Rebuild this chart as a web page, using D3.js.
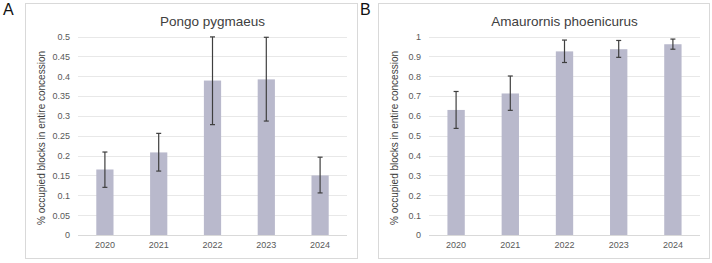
<!DOCTYPE html>
<html>
<head>
<meta charset="utf-8">
<script src="https://cdn.jsdelivr.net/npm/d3@7"></script>
<style>
  body { margin: 0; background: #fff; }
  svg { display: block; font-family: "Liberation Sans", Arial, sans-serif; }
</style>
</head>
<body>
<div id="chart"></div>
<script>
// data
var years = ["2020", "2021", "2022", "2023", "2024"];

var pongoMean = [0.165, 0.208, 0.389, 0.392, 0.150];
var pongoLow  = [0.120, 0.161, 0.278, 0.287, 0.106];
var pongoHigh = [0.209, 0.256, 0.499, 0.498, 0.196];
var pongoTicks = [0, 0.05, 0.1, 0.15, 0.2, 0.25, 0.3, 0.35, 0.4, 0.45, 0.5];

var amauMean = [0.630, 0.713, 0.925, 0.936, 0.961];
var amauLow  = [0.537, 0.628, 0.869, 0.895, 0.936];
var amauHigh = [0.723, 0.801, 0.982, 0.980, 0.987];
var amauTicks = [0, 0.1, 0.2, 0.3, 0.4, 0.5, 0.6, 0.7, 0.8, 0.9, 1];

var yTitle = "% occupied blocks in entire concession";

var svg = d3.select("#chart").append("svg")
    .attr("width", 712)
    .attr("height", 263);

function drawPanel(p) {
    var g = svg.append("g").attr("transform", "translate(" + p.x + ",0)");

    // outer frame
    g.append("rect")
        .attr("x", p.boxLeft + 0.5).attr("y", 3.5)
        .attr("width", p.boxWidth).attr("height", 255)
        .attr("fill", "#fff").attr("stroke", "#d9d9d9");

    g.append("text")
        .attr("x", p.letterX).attr("y", 15)
        .style("font-size", "16px").attr("fill", "#111")
        .text(p.letter);

    var data = years.map(function(y, i) {
        return {year: y, mean: p.mean[i], low: p.low[i], high: p.high[i]};
    });

    var x = d3.scaleBand()
        .domain(years)
        .range([p.plotLeft, p.plotRight])
        .paddingInner(0.68)
        .paddingOuter(0.34);

    var y = d3.scaleLinear()
        .domain([0, p.max])
        .range([235, 36.5]);

    // grid
    g.selectAll(".grid")
        .data(p.ticks)
      .enter().append("line")
        .attr("x1", p.plotLeft).attr("x2", p.plotRight)
        .attr("y1", function(d) { return Math.round(y(d)) + 0.5; })
        .attr("y2", function(d) { return Math.round(y(d)) + 0.5; })
        .attr("stroke", function(d) { return d === 0 ? "#d9d9d9" : "#e8e8e8"; });

    var yAxis = d3.axisLeft(y).tickValues(p.ticks).tickSize(0).tickPadding(0)
        .tickFormat(function(d) { return String(+d.toFixed(2)); });
    var ya = g.append("g")
        .attr("transform", "translate(" + (p.plotLeft - 8) + ",0)")
        .call(yAxis);
    ya.select(".domain").remove();
    ya.selectAll("text").style("font-size", "9px").attr("fill", "#595959");

    var xAxis = d3.axisBottom(x).tickSize(0).tickPadding(0);
    var xa = g.append("g")
        .attr("transform", "translate(0,242)")
        .call(xAxis);
    xa.select(".domain").remove();
    xa.selectAll("text").style("font-size", "9px").attr("fill", "#595959");

    // bars
    g.selectAll(".bar")
        .data(data)
      .enter().append("rect")
        .attr("fill", "#b9b9cc")
        .attr("x", function(d) { return x(d.year); })
        .attr("width", x.bandwidth())
        .attr("y", function(d) { return y(d.mean); })
        .attr("height", function(d) { return y(0) - y(d.mean); });

    // error bars
    var eb = g.selectAll(".err")
        .data(data)
      .enter().append("g")
        .attr("stroke", "#3f3f3f").attr("stroke-width", 1.2);
    eb.append("line")
        .attr("x1", function(d) { return x(d.year) + x.bandwidth() / 2; })
        .attr("x2", function(d) { return x(d.year) + x.bandwidth() / 2; })
        .attr("y1", function(d) { return y(d.low); })
        .attr("y2", function(d) { return y(d.high); });
    [ "low", "high" ].forEach(function(k) {
        eb.append("line")
            .attr("x1", function(d) { return x(d.year) + x.bandwidth() / 2 - 2.5; })
            .attr("x2", function(d) { return x(d.year) + x.bandwidth() / 2 + 2.5; })
            .attr("y1", function(d) { return y(d[k]); })
            .attr("y2", function(d) { return y(d[k]); });
    });

    // titles
    g.append("text")
        .attr("x", (p.plotLeft + p.plotRight) / 2).attr("y", 26)
        .attr("text-anchor", "middle")
        .style("font-size", "13.5px").attr("fill", "#404040")
        .text(p.title);

    g.append("text")
        .attr("transform", "translate(" + p.yTitleX + "," + 138 + ") rotate(-90)")
        .attr("text-anchor", "middle")
        .style("font-size", "10px").attr("fill", "#404040")
        .text(yTitle);
}

drawPanel({x: 0, letter: "A", letterX: 3, boxLeft: 25, boxWidth: 332,
    plotLeft: 78, plotRight: 347, yTitleX: 45, max: 0.5,
    mean: pongoMean, low: pongoLow, high: pongoHigh, ticks: pongoTicks,
    title: "Pongo pygmaeus"});

drawPanel({x: 352, letter: "B", letterX: 8, boxLeft: 26, boxWidth: 331,
    plotLeft: 77, plotRight: 348, yTitleX: 46, max: 1,
    mean: amauMean, low: amauLow, high: amauHigh, ticks: amauTicks,
    title: "Amaurornis phoenicurus"});
</script>
</body>
</html>
